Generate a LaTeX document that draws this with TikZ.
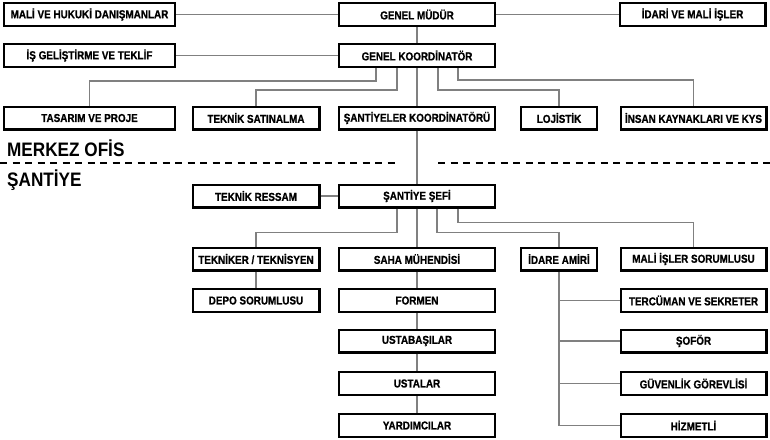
\documentclass[tikz,border=0pt]{standalone}
\usepackage{fontspec}
\setmainfont{Liberation Sans}[FakeStretch=0.86, BoldFeatures={FakeBold=0.8}]
\newfontfamily\areafont{Liberation Sans}[FakeStretch=0.88]
\usepackage{tikz}
\usepackage{xcolor}
\definecolor{linkgray}{HTML}{808080}
\tikzset{
    org-box/.style = {draw=black, fill=white, line width=2.2pt, rectangle, inner sep=2pt, minimum height=22.8pt, font=\bfseries\fontsize{11.5}{13}\selectfont},
    wide-box/.style = {org-box, minimum width=170.8pt},
    main-box/.style = {org-box, minimum width=155.8pt},
    side-box/.style = {org-box, minimum width=145.8pt},
    mid-box/.style = {org-box, minimum width=126.8pt},
    small-box/.style = {org-box, minimum width=75.8pt},
    org-link/.style = {draw=linkgray, line width=1.1pt},
    area-title/.style = {font=\areafont\bfseries\fontsize{19.5}{22}\selectfont, inner sep=0pt, anchor=base west},
    area-split/.style = {line width=2pt, dash pattern=on 7pt off 5.5pt},
}

\begin{document}
\begin{tikzpicture}[x=1pt, y=-1pt]
\useasboundingbox (0,0) rectangle (770,439);
% merkez ofis
\node [wide-box] (danisman) at (89.5,14.5) {MALİ VE HUKUKİ DANIŞMANLAR};
\node [main-box] (mudur) at (417,14.5) {GENEL MÜDÜR};
\node [side-box] (idari) at (692.5,14.5) {İDARİ VE MALİ İŞLER};
\node [wide-box] (gelistirme) at (89.5,55.5) {İŞ GELİŞTİRME VE TEKLİF};
\node [main-box] (koord) at (417,55.5) {GENEL KOORDİNATÖR};
\node [wide-box] (tasarim) at (89.5,118) {TASARIM VE PROJE};
\node [mid-box] (satinalma) at (256,118) {TEKNİK SATINALMA};
\node [main-box] (santkoord) at (417,118) {ŞANTİYELER KOORDİNATÖRÜ};
\node [small-box] (lojistik) at (559,118) {LOJİSTİK};
\node [side-box] (insan) at (693.5,118) {İNSAN KAYNAKLARI VE KYS};

\node [area-title] (merkez) at (7,156) {MERKEZ OFİS};
\draw [area-split] (0,163) -- (395,163) (438,163) -- (770,163);
\node [area-title] (santiye) at (7,186) {ŞANTİYE};

% santiye
\node [mid-box] (ressam) at (256,196) {TEKNİK RESSAM};
\node [main-box] (sefi) at (417,196) {ŞANTİYE ŞEFİ};
\node [mid-box] (tekniker) at (256,259) {TEKNİKER / TEKNİSYEN};
\node [main-box] (saha) at (417,259) {SAHA MÜHENDİSİ};
\node [small-box] (idare) at (559,259) {İDARE AMİRİ};
\node [side-box] (malis) at (693.5,259) {MALİ İŞLER SORUMLUSU};
\node [mid-box] (depo) at (256,300.5) {DEPO SORUMLUSU};
\node [main-box] (formen) at (417,300.5) {FORMEN};
\node [side-box] (tercuman) at (693.5,300.5) {TERCÜMAN VE SEKRETER};
\node [main-box] (ustabasi) at (417,341) {USTABAŞILAR};
\node [side-box] (sofor) at (693.5,341) {ŞOFÖR};
\node [main-box] (usta) at (417,383.5) {USTALAR};
\node [side-box] (guvenlik) at (693.5,383.5) {GÜVENLİK GÖREVLİSİ};
\node [main-box] (yardimci) at (417,425.5) {YARDIMCILAR};
\node [side-box] (hizmetli) at (693.5,425.5) {HİZMETLİ};

% baglantilar
\draw [org-link] (danisman) -- (mudur) -- (idari);
\draw [org-link] (gelistirme) -- (koord);
\draw [org-link] (mudur) -- (koord);
\draw [org-link] (koord) -- (santkoord) -- (sefi) -- (saha) -- (formen) -- (ustabasi) -- (usta) -- (yardimci);
\draw [org-link] ([xshift=-41pt]koord.south) |- ++(0,13) -| (tasarim.north);
\draw [org-link] ([xshift=-20pt]koord.south) |- ++(0,22) -| (satinalma.north);
\draw [org-link] ([xshift=21pt]koord.south) |- ++(0,22) -| (lojistik.north);
\draw [org-link] ([xshift=41pt]koord.south) |- ++(0,12) -| (insan.north);
\draw [org-link] (ressam) -- (sefi);
\draw [org-link] ([xshift=-20pt]sefi.south) |- ++(0,24) -| (tekniker.north);
\draw [org-link] ([xshift=20pt]sefi.south) |- ++(0,24) -| (idare.north);
\draw [org-link] ([xshift=41pt]sefi.south) |- ++(0,14) -| (malis.north);
\draw [org-link] (tekniker) -- (depo);
\draw [org-link] (idare.south) |- (hizmetli.west);
\draw [org-link] (idare.south |- tercuman.west) -- (tercuman.west);
\draw [org-link] (idare.south |- sofor.west) -- (sofor.west);
\draw [org-link] (idare.south |- guvenlik.west) -- (guvenlik.west);
\end{tikzpicture}
\end{document}
